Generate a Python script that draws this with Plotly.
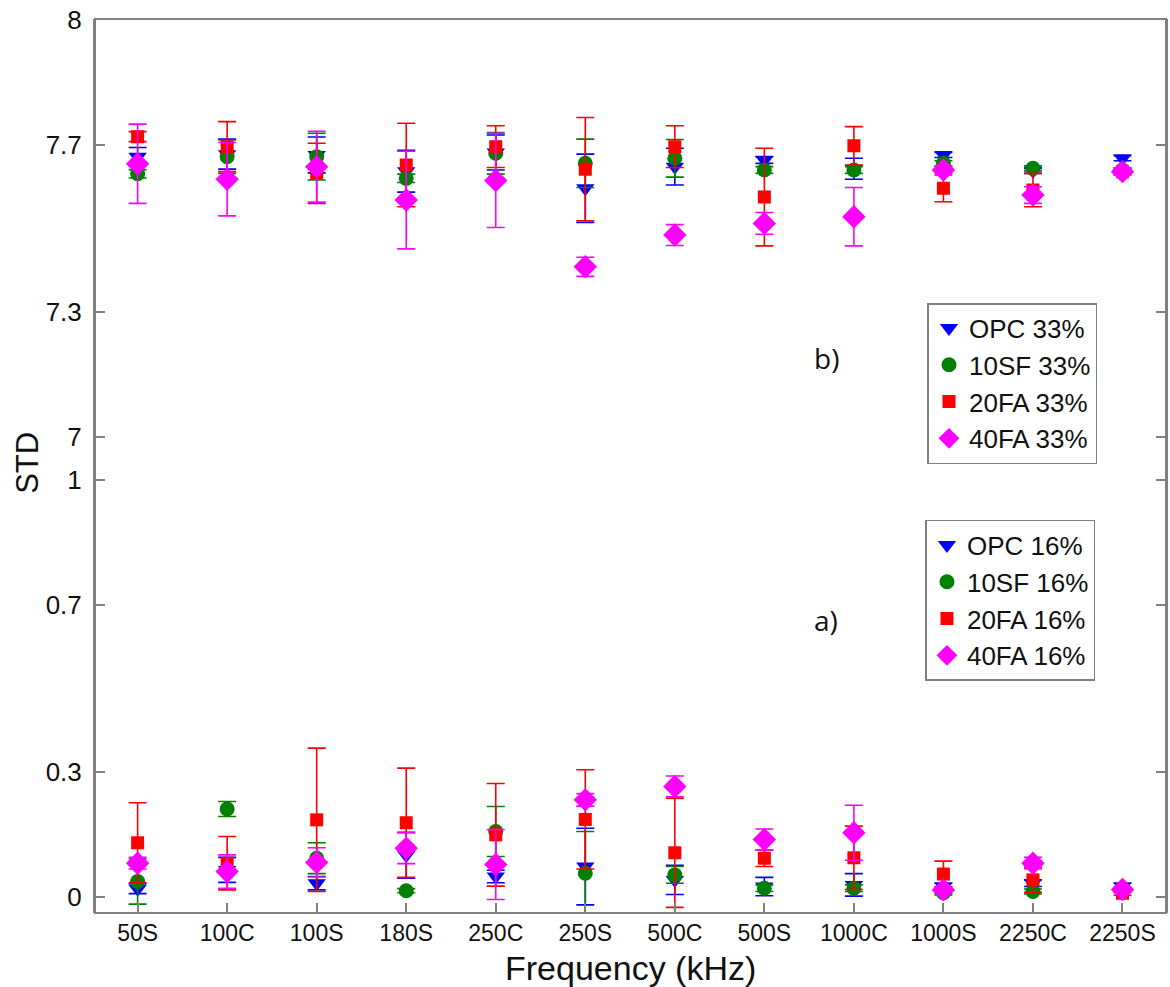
import plotly.graph_objects as go

categories = ["50S", "100C", "100S", "180S", "250C", "250S", "500C", "500S", "1000C", "1000S", "2250C", "2250S"]

# a) 16% series (lower panel)
opc_16 = [0.020, 0.065, 0.033, 0.100, 0.049, 0.073, 0.041, 0.025, 0.029, 0.025, 0.033, 0.025]
opc_16_err = [0.012, 0.030, 0.016, 0.055, 0.015, 0.092, 0.035, 0.022, 0.027, 0.008, 0.008, 0.008]
sf10_16 = [0.037, 0.211, 0.093, 0.015, 0.157, 0.057, 0.053, 0.021, 0.021, 0.010, 0.013, 0.015]
sf10_16_err = [0.054, 0.018, 0.037, 0.005, 0.060, 0.100, 0.020, 0.008, 0.008, 0.005, 0.006, 0.005]
fa20_16 = [0.130, 0.081, 0.185, 0.178, 0.149, 0.186, 0.106, 0.093, 0.094, 0.055, 0.041, 0.009]
fa20_16_err = [0.096, 0.064, 0.172, 0.131, 0.123, 0.119, 0.131, 0.020, 0.076, 0.031, 0.030, 0.005]
fa40_16 = [0.081, 0.061, 0.083, 0.117, 0.078, 0.233, 0.265, 0.138, 0.154, 0.017, 0.081, 0.018]
fa40_16_err = [0.014, 0.040, 0.035, 0.037, 0.084, 0.015, 0.025, 0.025, 0.066, 0.008, 0.014, 0.005]

# b) 33% series (upper panel)
opc_33 = [7.672, 7.678, 7.676, 7.637, 7.682, 7.596, 7.648, 7.664, 7.643, 7.676, 7.638, 7.668]
opc_33_err = [0.022, 0.036, 0.043, 0.050, 0.042, 0.082, 0.044, 0.008, 0.025, 0.006, 0.006, 0.006]
sf10_33 = [7.631, 7.672, 7.672, 7.620, 7.680, 7.656, 7.668, 7.640, 7.640, 7.656, 7.644, 7.640]
sf10_33_err = [0.010, 0.040, 0.056, 0.010, 0.050, 0.058, 0.045, 0.008, 0.008, 0.006, 0.006, 0.005]
fa20_33 = [7.720, 7.696, 7.632, 7.652, 7.696, 7.642, 7.696, 7.575, 7.698, 7.596, 7.592, 7.636]
fa20_33_err = [0.012, 0.060, 0.072, 0.100, 0.050, 0.124, 0.050, 0.117, 0.046, 0.032, 0.040, 0.008]
fa40_33 = [7.655, 7.618, 7.648, 7.568, 7.615, 7.408, 7.484, 7.512, 7.528, 7.640, 7.580, 7.636]
fa40_33_err = [0.095, 0.088, 0.085, 0.117, 0.113, 0.023, 0.025, 0.026, 0.070, 0.008, 0.020, 0.008]

lower_ticks = [0, 0.3, 0.7, 1]
lower_ticktext = ["0", "0.3", "0.7", "1"]
upper_ticks = [7, 7.3, 7.7, 8]
upper_ticktext = ["7", "7.3", "7.7", "8"]

styles = [
    ("OPC", "triangle-down", 16, "#0000FF"),
    ("10SF", "circle", 15, "#008000"),
    ("20FA", "square", 13, "#FF0000"),
    ("40FA", "diamond", 18, "#FF00FF"),
]

fig = go.Figure()

upper = [(opc_33, opc_33_err), (sf10_33, sf10_33_err), (fa20_33, fa20_33_err), (fa40_33, fa40_33_err)]
lower = [(opc_16, opc_16_err), (sf10_16, sf10_16_err), (fa20_16, fa20_16_err), (fa40_16, fa40_16_err)]

for (name, sym, size, col), (vals, errs) in zip(styles, upper):
    fig.add_trace(go.Scatter(
        x=categories, y=vals, mode="markers", name=name + " 33%",
        xaxis="x", yaxis="y2", legend="legend",
        marker=dict(symbol=sym, size=size, color=col, line=dict(width=0)),
        error_y=dict(type="data", array=errs, symmetric=True, color=col, thickness=1.6, width=9),
    ))

for (name, sym, size, col), (vals, errs) in zip(styles, lower):
    fig.add_trace(go.Scatter(
        x=categories, y=vals, mode="markers", name=name + " 16%",
        xaxis="x", yaxis="y", legend="legend2",
        marker=dict(symbol=sym, size=size, color=col, line=dict(width=0)),
        error_y=dict(type="data", array=errs, symmetric=True, color=col, thickness=1.6, width=9),
    ))

axis_col = "#808080"
sans = "Liberation Sans, Arial, sans-serif"
tick_font = dict(family=sans, size=26, color="#111111")
split = 0.5084

fig.update_layout(
    width=1170, height=987,
    margin=dict(l=95, r=2, t=19, b=74),
    paper_bgcolor="white", plot_bgcolor="white",
    showlegend=True,
    xaxis=dict(
        type="category", range=[-0.476, 11.486], anchor="y",
        tickmode="array", tickvals=categories, ticktext=categories,
        ticks="inside", ticklen=10, tickcolor=axis_col, tickwidth=1.5,
        showline=False, showgrid=False, zeroline=False,
        tickfont=dict(family=sans, size=23, color="#111111"),
        ticklabelstandoff=4,
    ),
    yaxis=dict(
        domain=[0, split], range=[-0.0384, 1.0516], anchor="x",
        tickmode="array", tickvals=lower_ticks, ticktext=lower_ticktext,
        ticks="inside", ticklen=10, tickcolor=axis_col, tickwidth=1.5,
        showline=True, linecolor=axis_col, linewidth=2, mirror="ticks",
        showgrid=False, zeroline=False, tickfont=tick_font, ticklabelstandoff=6,
    ),
    yaxis2=dict(
        domain=[split, 1], range=[6.9484, 8.002], anchor="x",
        tickmode="array", tickvals=upper_ticks, ticktext=upper_ticktext,
        ticks="inside", ticklen=10, tickcolor=axis_col, tickwidth=1.5,
        showline=True, linecolor=axis_col, linewidth=2, mirror="ticks",
        showgrid=False, zeroline=False, tickfont=tick_font, ticklabelstandoff=6,
    ),
    legend=dict(
        x=0.7773, y=0.6823, xanchor="left", yanchor="top",
        bgcolor="white", bordercolor=axis_col, borderwidth=1.5,
        font=dict(family=sans, size=26, color="#111111"),
        itemsizing="trace", tracegroupgap=0,
    ),
    legend2=dict(
        x=0.7754, y=0.4396, xanchor="left", yanchor="top",
        bgcolor="white", bordercolor=axis_col, borderwidth=1.5,
        font=dict(family=sans, size=26, color="#111111"),
        itemsizing="trace", tracegroupgap=0,
    ),
    shapes=[dict(type="rect", xref="paper", yref="paper", x0=0, y0=0, x1=1, y1=1,
                 line=dict(color=axis_col, width=2), fillcolor="rgba(0,0,0,0)", layer="below")],
    annotations=[
        dict(text="Frequency (kHz)", xref="paper", yref="paper", x=0.5, y=(913 - 968) / 894,
             xanchor="center", yanchor="middle", showarrow=False,
             font=dict(family=sans, size=34, color="#111111")),
        dict(text="STD", xref="paper", yref="paper", x=-0.063, y=0.503, xanchor="center", yanchor="middle",
             textangle=-90, showarrow=False,
             font=dict(family=sans, size=31, color="#111111")),
        dict(text="b)", xref="paper", yref="paper", x=(828 - 95) / 1073, y=(913 - 358) / 894,
             xanchor="center", yanchor="middle", showarrow=False,
             font=dict(family="Open Sans, Noto Sans, sans-serif", size=28, color="#111111")),
        dict(text="a)", xref="paper", yref="paper", x=(827 - 95) / 1073, y=(913 - 620) / 894,
             xanchor="center", yanchor="middle", showarrow=False,
             font=dict(family="Open Sans, Noto Sans, sans-serif", size=28, color="#111111")),
    ],
)

fig.write_html("out.html")
